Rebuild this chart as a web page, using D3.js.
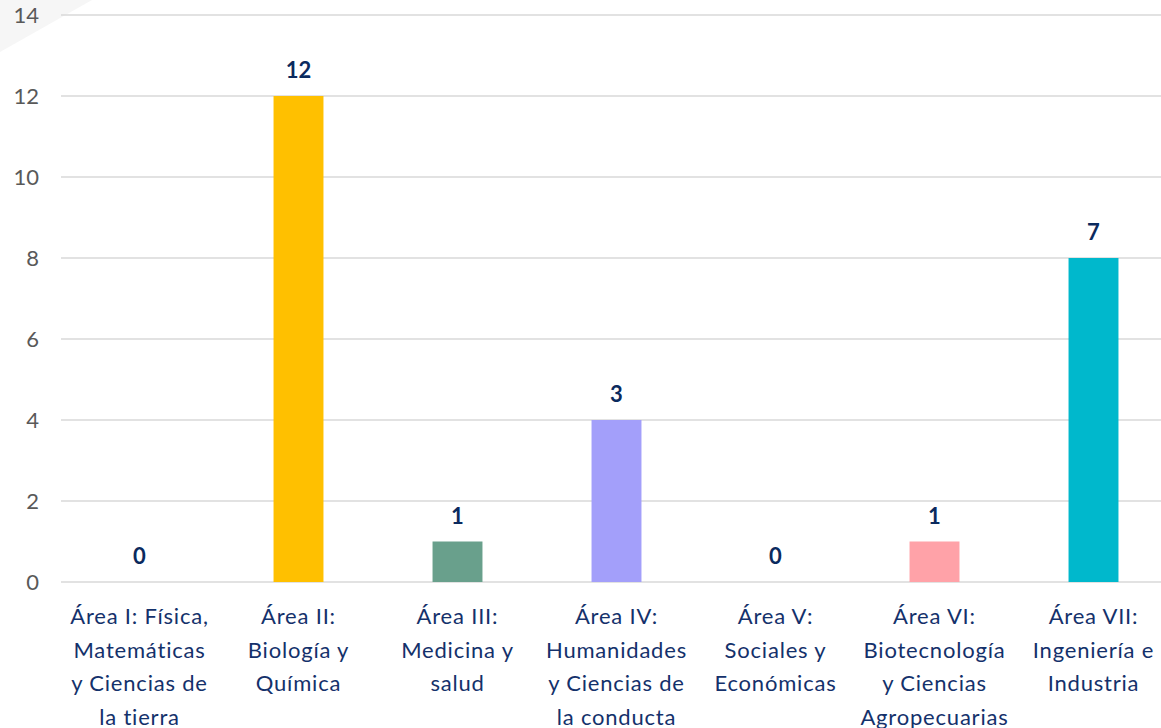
<!DOCTYPE html>
<html><head><meta charset="utf-8">
<script src="https://cdn.jsdelivr.net/npm/d3@7"></script>
<style>html,body{margin:0;padding:0;background:#fff;overflow:hidden}</style>
</head><body>
<svg id="chart" width="1161" height="728"></svg>
<script>
const categories = [
  ["Área I: Física,","Matemáticas","y Ciencias de","la tierra"],
  ["Área II:","Biología y","Química"],
  ["Área III:","Medicina y","salud"],
  ["Área IV:","Humanidades","y Ciencias de","la conducta"],
  ["Área V:","Sociales y","Económicas"],
  ["Área VI:","Biotecnología","y Ciencias","Agropecuarias"],
  ["Área VII:","Ingeniería e","Industria"]
];
const barValues = [0, 12, 1, 4, 0, 1, 8];
const labelValues = [0, 12, 1, 3, 0, 1, 7];
const colors = ["#4472c4", "#ffc000", "#69a08c", "#a39ffa", "#70ad47", "#ffa2a8", "#00b8cc"];
const yTicks = [0, 2, 4, 6, 8, 10, 12, 14];

const FONT = "Lato, 'Open Sans', sans-serif";
const svg = d3.select("#chart");
svg.append("polygon").attr("points", "0,0 92,0 0,52").attr("fill", "#f6f6f6");

const x = d3.scaleBand().domain(d3.range(categories.length)).range([60, 1173]).paddingInner(0.686).paddingOuter(0.343);
const y = d3.scaleLinear().domain([0, 14]).range([582, 15]);

// gridlines
svg.append("g").selectAll("line").data(yTicks).join("line")
  .attr("x1", 61).attr("x2", 1161)
  .attr("y1", d => y(d)).attr("y2", d => y(d))
  .attr("stroke", "#d9d9d9").attr("stroke-width", 1.5);

// y tick labels
const yAxis = d3.axisLeft(y).tickValues(yTicks).tickSize(0).tickPadding(0);
const gy = svg.append("g").attr("transform", "translate(39,0)").call(yAxis);
gy.select(".domain").remove();
gy.selectAll("text").attr("font-family", FONT).attr("font-size", 22)
  .attr("fill", "#595959").attr("text-anchor", "end").attr("dy", "0.36em");

// bars
svg.append("g").selectAll("rect").data(barValues).join("rect")
  .attr("x", (d, i) => x(i)).attr("width", x.bandwidth())
  .attr("y", d => y(d)).attr("height", d => y(0) - y(d))
  .attr("fill", (d, i) => colors[i]);

// value labels
svg.append("g").selectAll("text").data(labelValues).join("text")
  .attr("x", (d, i) => x(i) + x.bandwidth() / 2)
  .attr("y", (d, i) => y(barValues[i]) - 18)
  .attr("text-anchor", "middle")
  .attr("font-family", FONT).attr("font-weight", "bold")
  .attr("font-size", 22).attr("fill", "#0b2a5e")
  .text(d => d);

// category labels
const cat = svg.append("g").selectAll("text").data(categories).join("text")
  .attr("x", (d, i) => x(i) + x.bandwidth() / 2)
  .attr("y", 624)
  .attr("text-anchor", "middle")
  .attr("font-family", FONT)
  .attr("font-size", 22).attr("letter-spacing", 0.8).attr("fill", "#14316b");
cat.selectAll("tspan").data(d => d).join("tspan")
  .attr("x", function() { return d3.select(this.parentNode).attr("x"); })
  .attr("dy", (d, j) => j === 0 ? 0 : 33.5)
  .text(d => d);
</script>
</body></html>
